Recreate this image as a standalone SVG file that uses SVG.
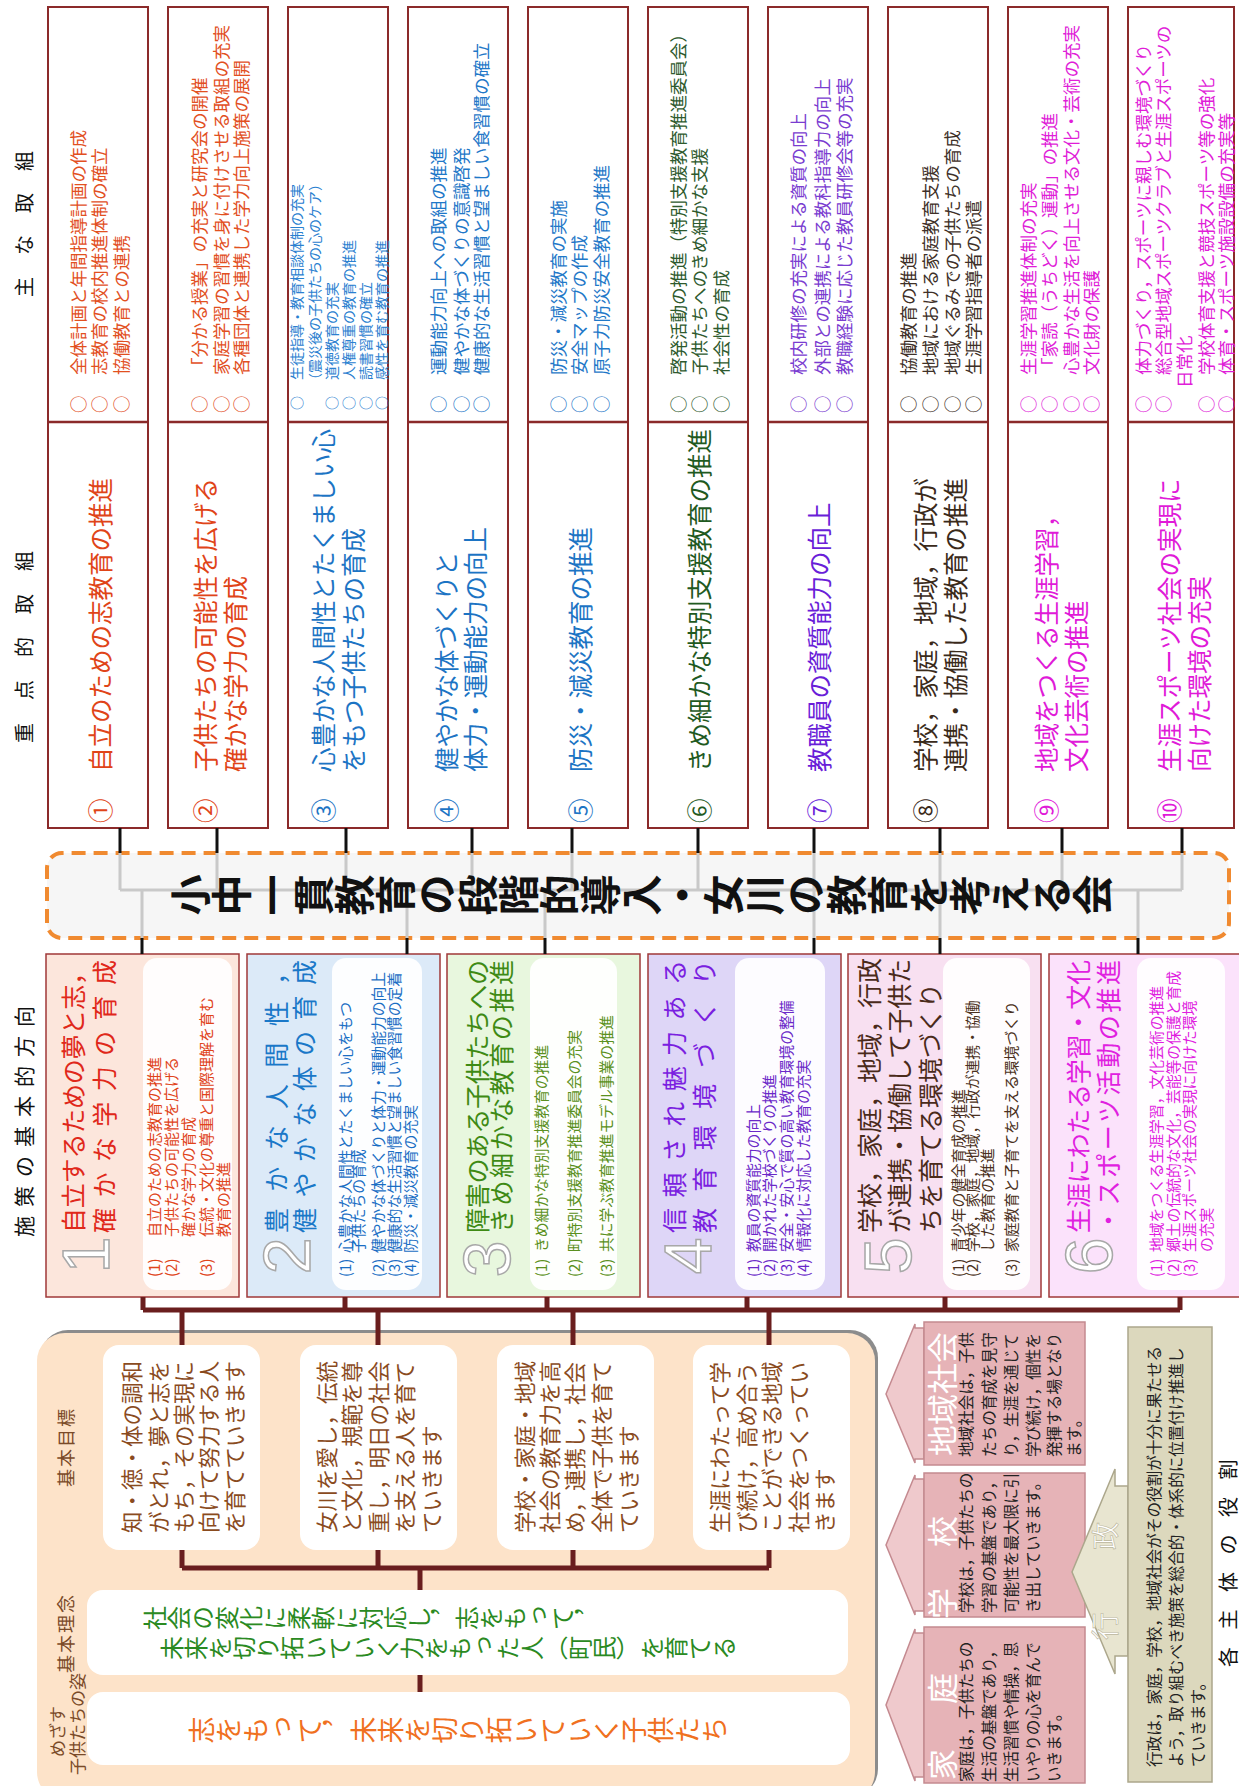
<svg xmlns="http://www.w3.org/2000/svg" width="1239" height="1786" viewBox="0 0 1239 1786">
<style>
text{font-family:"Noto Sans CJK JP","Noto Sans",sans-serif;dominant-baseline:central}
.v{writing-mode:vertical-rl}
.hdr{font-size:20px;fill:#111}
.box{fill:#fff;stroke:#8b2a2a;stroke-width:2}
.div{stroke:#8b2a2a;stroke-width:2.5}
.m{font-size:17.5px}
.ms{font-size:14px}
.j{font-size:24.5px}
.pol{stroke:#a03838;stroke-width:1.5}
.num{font-family:"Liberation Sans",sans-serif;font-size:66px;fill:#fff;stroke:#a8a8a8;stroke-width:1.5;text-anchor:middle}
.pt{font-size:25px}
.panel{fill:#fff;opacity:.92}
.s{font-size:14.8px}
.cb{stroke:#111;stroke-width:3}
.bus{stroke:#6a1e1e;stroke-width:5;fill:none}
.gray{stroke:#c9c9c9;stroke-width:3}
.gb{fill:#fff}
.g{font-size:21.5px;fill:#8a4b1e}
.lab{font-size:18px;fill:#7a4a28}
.pk{fill:#e6b3b7;stroke:#c48a90;stroke-width:1.5}
.pkh{fill:#efc9cc;stroke:#c48a90;stroke-width:1.5}
.pkt{font-size:31px;fill:#fff}
.pkx{font-size:15.6px;fill:#222}
.gy{fill:#dcd8bd;stroke:#aca78c;stroke-width:1.5}
.gyh{fill:#e8e5d0;stroke:#aca78c;stroke-width:1.5}
</style>
<g transform="translate(0,1786) rotate(-90)">

<!-- headers -->
<g id="headers" class="hdr">
<text x="1489" y="23" letter-spacing="22">主な取組</text>
<text x="1043" y="23" letter-spacing="23">重点的取組</text>
<text x="549" y="23" letter-spacing="9" font-size="21">施策の基本的方向</text>
<text x="119" y="1227" letter-spacing="17.5">各主体の役割</text>
</g>

<!-- top rows -->
<g id="k1">
<rect class="box" x="958" y="48" width="821" height="100"/>
<line class="div" x1="1364" y1="48" x2="1364" y2="148"/>
<g class="m" fill="#e2501f">
<text y="77"><tspan x="1373">○</tspan><tspan x="1411">全体計画と年間指導計画の作成</tspan></text>
<text y="98"><tspan x="1373">○</tspan><tspan x="1411">志教育の校内推進体制の確立</tspan></text>
<text y="120"><tspan x="1373">○</tspan><tspan x="1411">協働教育との連携</tspan></text>
</g>
<g class="j" fill="#e04418"><text x="963" y="99">①</text><text x="1014" y="99">自立のための志教育の推進</text></g>
</g>

<g id="k2">
<rect class="box" x="958" y="168" width="821" height="100"/>
<line class="div" x1="1364" y1="168" x2="1364" y2="268"/>
<g class="m" fill="#e2501f">
<text y="198"><tspan x="1373">○</tspan><tspan x="1411">「分かる授業」の充実と研究会の開催</tspan></text>
<text y="220"><tspan x="1373">○</tspan><tspan x="1411">家庭学習の習慣を身に付けさせる取組の充実</tspan></text>
<text y="240"><tspan x="1373">○</tspan><tspan x="1411">各種団体と連携した学力向上施策の展開</tspan></text>
</g>
<g class="j" fill="#e04418"><text x="963" y="204">②</text><text x="1014" y="204">子供たちの可能性を広げる</text><text x="1014" y="234">確かな学力の育成</text></g>
</g>

<g id="k3">
<rect class="box" x="958" y="288" width="821" height="100"/>
<line class="div" x1="1364" y1="288" x2="1364" y2="388"/>
<g class="ms" fill="#2a80d0">
<text y="296"><tspan x="1376">○</tspan><tspan x="1406">生徒指導・教育相談体制の充実</tspan></text>
<text x="1399" y="314">（震災後の子供たちの心のケア）</text>
<text y="331"><tspan x="1376">○</tspan><tspan x="1406">道徳教育の充実</tspan></text>
<text y="348"><tspan x="1376">○</tspan><tspan x="1406">人権尊重の教育の推進</tspan></text>
<text y="365"><tspan x="1376">○</tspan><tspan x="1406">読書習慣の確立</tspan></text>
<text y="381"><tspan x="1376">○</tspan><tspan x="1406">感性を育む教育の推進</tspan></text>
</g>
<g class="j" fill="#1c74c4"><text x="963" y="322">③</text><text x="1014" y="322">心豊かな人間性とたくましい心</text><text x="1014" y="352">をもつ子供たちの育成</text></g>
</g>

<g id="k4">
<rect class="box" x="958" y="408" width="821" height="100"/>
<line class="div" x1="1364" y1="408" x2="1364" y2="508"/>
<g class="m" fill="#1f78c8">
<text y="437"><tspan x="1373">○</tspan><tspan x="1411">運動能力向上への取組の推進</tspan></text>
<text y="460"><tspan x="1373">○</tspan><tspan x="1411">健やかな体づくりの意識啓発</tspan></text>
<text y="480"><tspan x="1373">○</tspan><tspan x="1411">健康的な生活習慣と望ましい食習慣の確立</tspan></text>
</g>
<g class="j" fill="#1c74c4"><text x="963" y="445">④</text><text x="1014" y="445">健やかな体づくりと</text><text x="1014" y="474">体力・運動能力の向上</text></g>
</g>

<g id="k5">
<rect class="box" x="958" y="528" width="821" height="100"/>
<line class="div" x1="1364" y1="528" x2="1364" y2="628"/>
<g class="m" fill="#1f78c8">
<text y="557"><tspan x="1373">○</tspan><tspan x="1411">防災・減災教育の実施</tspan></text>
<text y="578"><tspan x="1373">○</tspan><tspan x="1411">安全マップの作成</tspan></text>
<text y="600"><tspan x="1373">○</tspan><tspan x="1411">原子力防災安全教育の推進</tspan></text>
</g>
<g class="j" fill="#1c74c4"><text x="963" y="579">⑤</text><text x="1014" y="579">防災・減災教育の推進</text></g>
</g>

<g id="k6">
<rect class="box" x="958" y="648" width="821" height="100"/>
<line class="div" x1="1364" y1="648" x2="1364" y2="748"/>
<g class="m" fill="#2e5a2e">
<text y="677"><tspan x="1373">○</tspan><tspan x="1411">啓発活動の推進（特別支援教育推進委員会）</tspan></text>
<text y="698"><tspan x="1373">○</tspan><tspan x="1411">子供たちへのきめ細かな支援</tspan></text>
<text y="720"><tspan x="1373">○</tspan><tspan x="1411">社会性の育成</tspan></text>
</g>
<g class="j" fill="#1f5a1f"><text x="963" y="698">⑥</text><text x="1014" y="698">きめ細かな特別支援教育の推進</text></g>
</g>

<g id="k7">
<rect class="box" x="958" y="768" width="821" height="100"/>
<line class="div" x1="1364" y1="768" x2="1364" y2="868"/>
<g class="m" fill="#7a3cd0">
<text y="797"><tspan x="1373">○</tspan><tspan x="1411">校内研修の充実による資質の向上</tspan></text>
<text y="821"><tspan x="1373">○</tspan><tspan x="1411">外部との連携による教科指導力の向上</tspan></text>
<text y="843"><tspan x="1373">○</tspan><tspan x="1411">教職経験に応じた教員研修会等の充実</tspan></text>
</g>
<g class="j" fill="#6a1ed8"><text x="963" y="818">⑦</text><text x="1014" y="818">教職員の資質能力の向上</text></g>
</g>

<g id="k8">
<rect class="box" x="958" y="888" width="821" height="100"/>
<line class="div" x1="1364" y1="888" x2="1364" y2="988"/>
<g class="m" fill="#3e3028">
<text y="907"><tspan x="1373">○</tspan><tspan x="1411">協働教育の推進</tspan></text>
<text y="929"><tspan x="1373">○</tspan><tspan x="1411">地域における家庭教育支援</tspan></text>
<text y="951"><tspan x="1373">○</tspan><tspan x="1411">地域ぐるみでの子供たちの育成</tspan></text>
<text y="972"><tspan x="1373">○</tspan><tspan x="1411">生涯学習指導者の派遣</tspan></text>
</g>
<g class="j" fill="#3a2a1a"><text x="963" y="924">⑧</text><text x="1014" y="924">学校，家庭，地域，行政が</text><text x="1014" y="954">連携・協働した教育の推進</text></g>
</g>

<g id="k9">
<rect class="box" x="958" y="1008" width="821" height="100"/>
<line class="div" x1="1364" y1="1008" x2="1364" y2="1108"/>
<g class="m" fill="#e01ed8">
<text y="1027"><tspan x="1373">○</tspan><tspan x="1411">生涯学習推進体制の充実</tspan></text>
<text y="1048"><tspan x="1373">○</tspan><tspan x="1411">「家読（うちどく）運動」の推進</tspan></text>
<text y="1070"><tspan x="1373">○</tspan><tspan x="1411">心豊かな生活を向上させる文化・芸術の充実</tspan></text>
<text y="1090"><tspan x="1373">○</tspan><tspan x="1411">文化財の保護</tspan></text>
</g>
<g class="j" fill="#e01ad8"><text x="963" y="1045">⑨</text><text x="1014" y="1045">地域をつくる生涯学習，</text><text x="1014" y="1075">文化芸術の推進</text></g>
</g>

<g id="k10">
<rect class="box" x="958" y="1128" width="821" height="106"/>
<line class="div" x1="1364" y1="1128" x2="1364" y2="1234"/>
<g class="m" fill="#e01ed8">
<text y="1142"><tspan x="1373">○</tspan><tspan x="1411">体力づくり，スポーツに親しむ環境づくり</tspan></text>
<text y="1162"><tspan x="1373">○</tspan><tspan x="1411">総合型地域スポーツクラブと生涯スポーツの</tspan></text>
<text x="1398" y="1183">日常化</text>
<text y="1205"><tspan x="1373">○</tspan><tspan x="1411">学校体育支援と競技スポーツ等の強化</tspan></text>
<text y="1225"><tspan x="1373">○</tspan><tspan x="1411">体育・スポーツ施設設備の充実等</tspan></text>
</g>
<g class="j" fill="#e01ad8"><text x="963" y="1168">⑩</text><text x="1014" y="1168">生涯スポーツ社会の実現に</text><text x="1014" y="1198">向けた環境の充実</text></g>
</g>

<!-- central band -->
<g id="center">
<rect x="848" y="47" width="85" height="1182" rx="15" fill="#f6f6f6" stroke="#f08a30" stroke-width="4" stroke-dasharray="14 8"/>
<g class="gray">
<line x1="933" y1="120" x2="896" y2="120"/><line x1="933" y1="217" x2="896" y2="217"/><line x1="933" y1="346" x2="896" y2="346"/><line x1="933" y1="472" x2="896" y2="472"/><line x1="933" y1="572" x2="896" y2="572"/><line x1="933" y1="698" x2="896" y2="698"/><line x1="933" y1="814" x2="896" y2="814"/><line x1="933" y1="940" x2="896" y2="940"/><line x1="933" y1="1062" x2="896" y2="1062"/><line x1="933" y1="1182" x2="896" y2="1182"/>
<line x1="896" y1="120" x2="896" y2="1182"/>
<line x1="896" y1="142" x2="848" y2="142"/><line x1="896" y1="407" x2="848" y2="407"/><line x1="896" y1="545" x2="848" y2="545"/><line x1="896" y1="814" x2="848" y2="814"/><line x1="896" y1="940" x2="848" y2="940"/><line x1="896" y1="1138" x2="848" y2="1138"/>
</g>
<text class="v" x="891" y="170" font-size="41" font-weight="bold" fill="#111">小中一貫教育の段階的導入・女川の教育を考える会</text>
</g>

<!-- policy boxes -->
<g id="p1">
<rect class="pol" x="489" y="46" width="343" height="193" fill="#fce6dc"/>
<text class="num" x="531" y="86">1</text>
<g class="pt" fill="#e0281a"><text x="553" y="72" textLength="273" lengthAdjust="spacing">自立するための夢と志，</text><text x="553" y="103" textLength="273" lengthAdjust="spacing">確かな学力の育成</text></g>
<rect class="panel" x="496" y="143" width="332" height="89" rx="14"/>
<g font-size="15" fill="#e0441a">
<text x="509" y="153">(1)</text><text x="549" y="153">自立のための志教育の推進</text>
<text x="509" y="170">(2)</text><text x="549" y="170">子供たちの可能性を広げる</text>
<text x="549" y="187">確かな学力の育成</text>
<text x="509" y="205">(3)</text><text x="549" y="205">伝統・文化の尊重と国際理解を育む</text>
<text x="549" y="222">教育の推進</text>
</g>
</g>

<g id="p2">
<rect class="pol" x="489" y="247" width="343" height="193" fill="#dceaf8"/>
<text class="num" x="530" y="287">2</text>
<g class="pt" fill="#1a78c8"><text x="553" y="275" textLength="273" lengthAdjust="spacing">豊かな人間性，</text><text x="553" y="303" textLength="273" lengthAdjust="spacing">健やかな体の育成</text></g>
<rect class="panel" x="496" y="332" width="332" height="90" rx="14"/>
<g class="s" fill="#1a6ec4">
<text x="509" y="344">(1)</text><text x="533" y="344">心豊かな人間性とたくましい心をもつ</text>
<text x="533" y="357">子供たちの育成</text>
<text x="509" y="377">(2)</text><text x="533" y="377">健やかな体づくりと体力・運動能力の向上</text>
<text x="509" y="393">(3)</text><text x="533" y="393">健康的な生活習慣と望ましい食習慣の定着</text>
<text x="509" y="409">(4)</text><text x="533" y="409">防災・減災教育の充実</text>
</g>
</g>

<g id="p3">
<rect class="pol" x="489" y="447" width="343" height="193" fill="#e8f7de"/>
<text class="num" x="527" y="487">3</text>
<g class="pt" fill="#3e8a14"><text x="553" y="476" textLength="273" lengthAdjust="spacing">障害のある子供たちへの</text><text x="553" y="500" textLength="273" lengthAdjust="spacing">きめ細かな教育の推進</text></g>
<rect class="panel" x="496" y="530" width="332" height="87" rx="14"/>
<g class="s" fill="#5a9020">
<text x="509" y="540">(1)</text><text x="534" y="540">きめ細かな特別支援教育の推進</text>
<text x="509" y="573">(2)</text><text x="534" y="573">町特別支援教育推進委員会の充実</text>
<text x="509" y="605">(3)</text><text x="534" y="605">共に学ぶ教育推進モデル事業の推進</text>
</g>
</g>

<g id="p4">
<rect class="pol" x="489" y="648" width="343" height="193" fill="#ded6f7"/>
<text class="num" x="530" y="688">4</text>
<g class="pt" fill="#7a20e0"><text x="553" y="673" textLength="273" lengthAdjust="spacing">信頼され魅力ある</text><text x="553" y="703" textLength="273" lengthAdjust="spacing">教育環境づくり</text></g>
<rect class="panel" x="496" y="735" width="332" height="90" rx="14"/>
<g class="s" fill="#6a28c8">
<text x="509" y="752">(1)</text><text x="534" y="752">教員の資質能力の向上</text>
<text x="509" y="768">(2)</text><text x="534" y="768">開かれた学校づくりの推進</text>
<text x="509" y="785">(3)</text><text x="534" y="785">安全・安心で質の高い教育環境の整備</text>
<text x="509" y="802">(4)</text><text x="534" y="802">情報化に対応した教育の充実</text>
</g>
</g>

<g id="p5">
<rect class="pol" x="489" y="848" width="343" height="193" fill="#f8e0f1"/>
<text class="num" x="530" y="888">5</text>
<g class="pt" fill="#4a2a1a"><text x="553" y="868">学校，家庭，地域，行政</text><text x="553" y="898">が連携・協働して子供た</text><text x="553" y="929">ちを育てる環境づくり</text></g>
<rect class="panel" x="496" y="943" width="332" height="87" rx="14"/>
<g class="s" fill="#4a3020">
<text x="509" y="957">(1)</text><text x="534" y="957">青少年の健全育成の推進</text>
<text x="509" y="971">(2)</text><text x="534" y="971">学校，家庭，地域，行政が連携・協働</text>
<text x="534" y="986">した教育の推進</text>
<text x="509" y="1010">(3)</text><text x="534" y="1010">家庭教育と子育てを支える環境づくり</text>
</g>
</g>

<g id="p6">
<rect class="pol" x="489" y="1049" width="343" height="195" fill="#fbe2fb"/>
<text class="num" x="530" y="1089">6</text>
<g class="pt" fill="#e020e0"><text x="553" y="1077" textLength="273" lengthAdjust="spacing">生涯にわたる学習・文化</text><text x="553" y="1107" textLength="273" lengthAdjust="spacing">・スポーツ活動の推進</text></g>
<rect class="panel" x="496" y="1137" width="332" height="88" rx="14"/>
<g class="s" fill="#e01ee0">
<text x="509" y="1155">(1)</text><text x="534" y="1155">地域をつくる生涯学習，文化芸術の推進</text>
<text x="509" y="1172">(2)</text><text x="534" y="1172">郷土の伝統的な文化，芸能等の保護と育成</text>
<text x="509" y="1188">(3)</text><text x="534" y="1188">生涯スポーツ社会の実現に向けた環境</text>
<text x="534" y="1205">の充実</text>
</g>
</g>

<!-- goals area -->
<g id="goals">
<rect x="-11" y="40" width="467" height="838" rx="28" fill="#8c8c8c"/>
<rect x="-14" y="37" width="467" height="838" rx="28" fill="#fde3c9"/>
<g class="lab">
<text x="299" y="65" letter-spacing="2">基本目標</text>
<text x="113" y="65" letter-spacing="2">基本理念</text>
<text x="29" y="56" font-size="17">めざす</text>
<text x="113" y="76" font-size="17" text-anchor="end">子供たちの姿</text>
</g>
</g>
<g id="g1">
<rect class="gb" x="236" y="103" width="205" height="157" rx="16"/>
<g class="g"><text x="253" y="130">知・徳・体の調和</text><text x="253" y="157">がとれ，夢と志を</text><text x="253" y="182">もち，その実現に</text><text x="253" y="207">向けて努力する人</text><text x="253" y="233">を育てていきます</text></g>
</g>
<g id="g2">
<rect class="gb" x="236" y="300" width="205" height="157" rx="16"/>
<g class="g"><text x="253" y="325">女川を愛し，伝統</text><text x="253" y="350">と文化，規範を尊</text><text x="253" y="377">重し，明日の社会</text><text x="253" y="403">を支える人を育て</text><text x="253" y="430">ていきます</text></g>
</g>
<g id="g3">
<rect class="gb" x="236" y="497" width="205" height="157" rx="16"/>
<g class="g"><text x="253" y="523">学校・家庭・地域</text><text x="253" y="548">社会の教育力を高</text><text x="253" y="573">め，連携し，社会</text><text x="253" y="600">全体で子供を育て</text><text x="253" y="627">ていきます</text></g>
</g>
<g id="g4">
<rect class="gb" x="236" y="693" width="205" height="157" rx="16"/>
<g class="g"><text x="253" y="718">生涯にわたって学</text><text x="253" y="745">び続け，高め合う</text><text x="253" y="770">ことができる地域</text><text x="253" y="797">社会をつくってい</text><text x="253" y="823">きます</text></g>
</g>
<g id="rinen">
<rect class="gb" x="111" y="87" width="85" height="761" rx="16"/>
<text class="v" x="168" y="143" font-size="24" fill="#2a8a22">社会の変化に柔軟に対応し，志をもって，</text>
<text class="v" x="138" y="160" font-size="24" fill="#2a8a22">未来を切り拓いていく力をもった人（町民）を育てる</text>
</g>
<g id="mezasu">
<rect class="gb" x="21" y="87" width="73" height="763" rx="16"/>
<text class="v" x="56" y="188" font-size="27" fill="#f07020">志をもって，未来を切り拓いていく子供たち</text>
</g>

<!-- actors -->
<g id="chiiki">
<path class="pkh" d="M327,924 L327,915 L323,915 L392,886 L462,915 L458,915 L458,924 Z"/>
<rect class="pk" x="321" y="924" width="143" height="161"/>
<text class="pkt" x="330" y="940">地域社会</text>
<g class="pkx" font-size="16.5"><text x="329" y="965">地域社会は，子供</text><text x="329" y="988">たちの育成を見守</text><text x="329" y="1010">り，生涯を通じて</text><text x="329" y="1032">学び続け，個性を</text><text x="329" y="1053">発揮する場となり</text><text x="329" y="1073">ます。</text></g>
</g>
<g id="gakko">
<path class="pkh" d="M175,924 L175,915 L171,915 L241,886 L311,915 L307,915 L307,924 Z"/>
<rect class="pk" x="169" y="924" width="144" height="161"/>
<text class="pkt" x="167" y="940" letter-spacing="41" font-size="32">学校</text>
<g class="pkx"><text x="173" y="965">学校は，子供たちの</text><text x="173" y="988">学習の基盤であり，</text><text x="173" y="1010">可能性を最大限に引</text><text x="173" y="1032">き出していきます。</text></g>
</g>
<g id="katei">
<path class="pkh" d="M9,924 L9,915 L5,915 L81,886 L157,915 L153,915 L153,924 Z"/>
<rect class="pk" x="3" y="924" width="156" height="161"/>
<text class="pkt" x="6" y="940" letter-spacing="45" font-size="32">家庭</text>
<g class="pkx"><text x="4" y="965">家庭は，子供たちの</text><text x="4" y="988">生活の基盤であり，</text><text x="4" y="1010">生活習慣や情操，思</text><text x="4" y="1032">いやりの心を育んで</text><text x="4" y="1053">いきます。</text></g>
</g>
<g id="gyosei">
<path class="gyh" d="M112,1115 L214,1072 L317,1115 L300,1115 L300,1128 L130,1128 L130,1115 Z"/>
<rect class="gy" x="4" y="1128" width="455" height="84"/>
<text x="146" y="1104" font-size="28" fill="#fff" stroke="#b9b49a" stroke-width="0.6" letter-spacing="62">行政</text>
<g class="pkx" font-size="15.8"><text x="19" y="1153">行政は，家庭，学校，地域社会がその役割が十分に果たせる</text><text x="19" y="1175">よう，取り組むべき施策を総合的・体系的に位置付け推進し</text><text x="19" y="1197">ていきます。</text></g>
</g>

<!-- connectors -->
<g id="connectors">
<g class="cb">
<line x1="958" y1="120" x2="933" y2="120"/><line x1="958" y1="217" x2="933" y2="217"/><line x1="958" y1="346" x2="933" y2="346"/><line x1="958" y1="472" x2="933" y2="472"/><line x1="958" y1="572" x2="933" y2="572"/><line x1="958" y1="698" x2="933" y2="698"/><line x1="958" y1="814" x2="933" y2="814"/><line x1="958" y1="940" x2="933" y2="940"/><line x1="958" y1="1062" x2="933" y2="1062"/><line x1="958" y1="1182" x2="933" y2="1182"/>
<line x1="848" y1="142" x2="832" y2="142"/><line x1="848" y1="407" x2="832" y2="407"/><line x1="848" y1="545" x2="832" y2="545"/><line x1="848" y1="814" x2="832" y2="814"/><line x1="848" y1="940" x2="832" y2="940"/><line x1="848" y1="1138" x2="832" y2="1138"/>
</g>
<path class="bus" d="M489,143 H476 M489,345 H476 M489,547 H476 M489,747 H476 M489,945 H476 M489,1180 H476 M476,143 V1180 M476,182 H441 M476,378 H441 M476,573 H441 M476,769 H441"/>
<path class="bus" d="M236,182 H218 M236,378 H218 M236,573 H218 M236,769 H218 M218,182 V769 M218,420 H196 M111,420 H94"/>
</g>
</g>
</svg>
